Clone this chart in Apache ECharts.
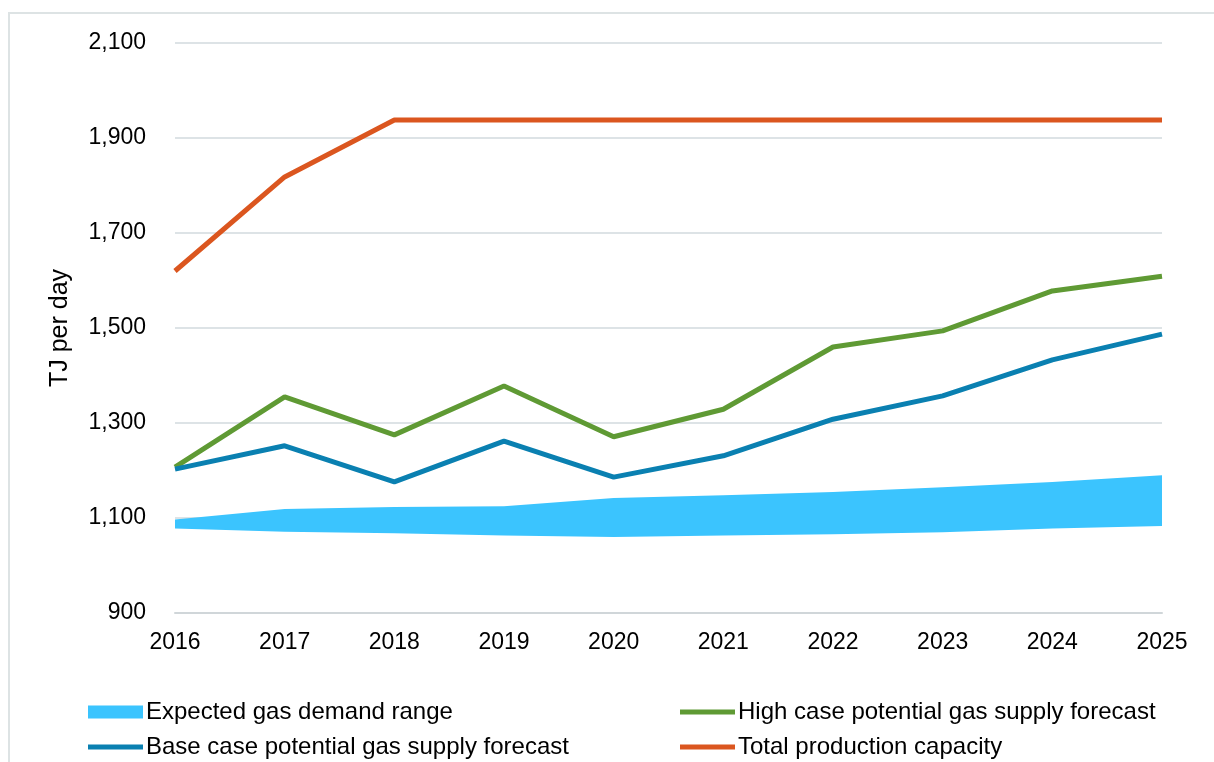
<!DOCTYPE html>
<html>
<head>
<meta charset="utf-8">
<script src="https://cdn.jsdelivr.net/npm/echarts@6/dist/echarts.min.js"></script>
<style>
html,body{margin:0;padding:0;background:#fff;}
#chart{width:1214px;height:762px;}
</style>
</head>
<body>
<div id="chart"></div>
<script>
const years = ['2016','2017','2018','2019','2020','2021','2022','2023','2024','2025'];
const demandLow  = [1078,1071,1068,1063,1060,1063,1066,1070,1078,1083];
const demandHigh = [1097,1119,1123,1125,1142,1148,1155,1165,1176,1190];
const highCase   = [1207,1355,1275,1378,1271,1329,1460,1494,1578,1609];
const baseCase   = [1203,1252,1176,1262,1186,1231,1308,1357,1433,1487];
const capacity   = [1620,1818,1938,1938,1938,1938,1938,1938,1938,1938];
const yTicks = {min:900, max:2100, interval:200};

const bandWidth = demandHigh.map((v,i)=>v-demandLow[i]);
const FONT = 'Liberation Sans, Arial, sans-serif';
const C = {band:'#3bc4fe', high:'#5f9a34', base:'#0a80b1', cap:'#db561f'};
function leg(name, color, left, cy, h){
  return {left:left, top:cy-11, padding:0, itemWidth:55, itemHeight:h, icon:'rect',
    textStyle:{fontFamily:FONT,fontSize:24,color:'#000',padding:[0,0,0,-2],lineHeight:24},
    data:[{name:name, icon:'rect', itemStyle:{color:color,opacity:1,borderWidth:0}}]};
}
const chart = echarts.init(document.getElementById('chart'));
chart.setOption({
  animation:false,
  backgroundColor:'#fff',
  graphic:[{type:'rect',shape:{x:9,y:13,width:1220,height:800},style:{fill:'none',stroke:'#dde3e4',lineWidth:2},silent:true}],
  grid:{left:175,right:52,top:43,bottom:149},
  legend:[
    leg('Expected gas demand range', C.band, 88, 711, 13),
    leg('Base case potential gas supply forecast', C.base, 88, 746, 5),
    leg('High case potential gas supply forecast', C.high, 680, 711, 5),
    leg('Total production capacity', C.cap, 680, 746, 5)
  ],
  xAxis:{type:'category',data:years,boundaryGap:false,
    axisLine:{lineStyle:{color:'#d0d6d9',width:2}},axisTick:{show:false},
    axisLabel:{fontFamily:FONT,fontSize:23,color:'#000',margin:18}},
  yAxis:{type:'value',min:yTicks.min,max:yTicks.max,interval:yTicks.interval,
    name:'TJ per day',nameLocation:'middle',nameGap:102,nameRotate:90,
    nameTextStyle:{fontFamily:FONT,fontSize:25,color:'#000'},
    axisLine:{show:false},axisTick:{show:false},
    splitLine:{lineStyle:{color:'#dde3e6',width:2}},
    axisLabel:{fontFamily:FONT,fontSize:23,color:'#000',margin:29,
      formatter:v=>v.toLocaleString('en-US')}},
  series:[
    {name:'demandBase',type:'line',stack:'band',data:demandLow,symbol:'none',
     lineStyle:{opacity:0},areaStyle:{opacity:0},silent:true},
    {name:'Expected gas demand range',type:'line',stack:'band',data:bandWidth,symbol:'none',
     itemStyle:{color:C.band},lineStyle:{width:0,opacity:0},areaStyle:{color:C.band,opacity:1}},
    {name:'High case potential gas supply forecast',type:'line',data:highCase,symbol:'none',
     itemStyle:{color:C.high},lineStyle:{color:C.high,width:5}},
    {name:'Base case potential gas supply forecast',type:'line',data:baseCase,symbol:'none',
     itemStyle:{color:C.base},lineStyle:{color:C.base,width:5}},
    {name:'Total production capacity',type:'line',data:capacity,symbol:'none',
     itemStyle:{color:C.cap},lineStyle:{color:C.cap,width:5}}
  ]
});
</script>
</body>
</html>
